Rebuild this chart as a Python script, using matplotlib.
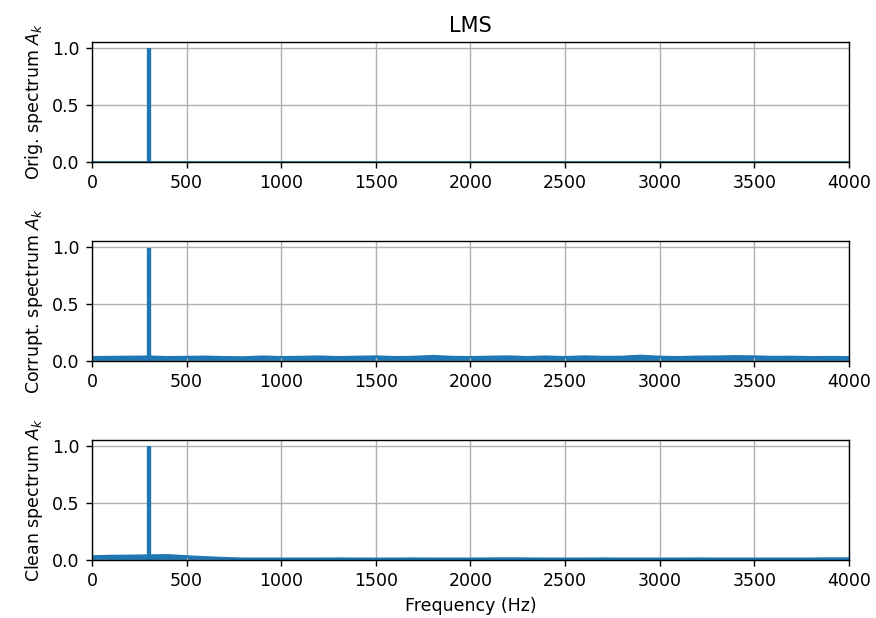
import numpy as np
import matplotlib
matplotlib.use("Agg")
import matplotlib.pyplot as plt

# frequency grid of the read-off noise envelopes (Hz)
freq_hz = np.arange(0, 4001, 100)

# tone peak
spike_hz = 300
spike_amp = [1.0, 0.99, 1.0]

# noise floor (top of the band)
orig_floor = np.zeros(len(freq_hz))
corrupt_floor = np.array([
    0.030, 0.032, 0.033, 0.035, 0.030, 0.032, 0.034, 0.030, 0.028, 0.035,
    0.030, 0.032, 0.035, 0.030, 0.033, 0.036, 0.030, 0.032, 0.040, 0.032,
    0.030, 0.033, 0.036, 0.030, 0.035, 0.030, 0.036, 0.032, 0.033, 0.042,
    0.033, 0.030, 0.034, 0.035, 0.038, 0.036, 0.032, 0.033, 0.030, 0.031,
    0.030])
clean_floor = np.array([
    0.030, 0.034, 0.035, 0.038, 0.040, 0.030, 0.022, 0.015, 0.010, 0.010,
    0.010, 0.010, 0.010, 0.011, 0.010, 0.010, 0.010, 0.011, 0.010, 0.010,
    0.010, 0.011, 0.012, 0.011, 0.010, 0.010, 0.010, 0.011, 0.010, 0.010,
    0.010, 0.010, 0.011, 0.010, 0.010, 0.010, 0.010, 0.010, 0.010, 0.012,
    0.012])

floors = [orig_floor, corrupt_floor, clean_floor]
labels = ['Orig. spectrum $A_k$', 'Corrupt. spectrum $A_k$', 'Clean spectrum $A_k$']

fig, axes = plt.subplots(3, 1, figsize=(876 / 125, 618 / 125), dpi=125)
fig.subplots_adjust(left=0.105, right=0.969, top=0.932, bottom=0.094, hspace=0.667)

color = '#1f77b4'
for ax, floor, amp, lab in zip(axes, floors, spike_amp, labels):
    ax.fill_between(freq_hz, 0, floor, color=color, lw=0)
    ax.plot(freq_hz, floor, color=color, lw=1.5)
    ax.vlines(spike_hz, 0, amp, color=color, lw=2.5)
    ax.set_xlim(0, 4000)
    ax.set_ylim(0, 1.05)
    ax.set_yticks([0.0, 0.5, 1.0])
    ax.grid(True)
    ax.set_ylabel(lab)

axes[0].set_title('LMS')
axes[2].set_xlabel('Frequency (Hz)')

fig.savefig('out.png', dpi=125)
